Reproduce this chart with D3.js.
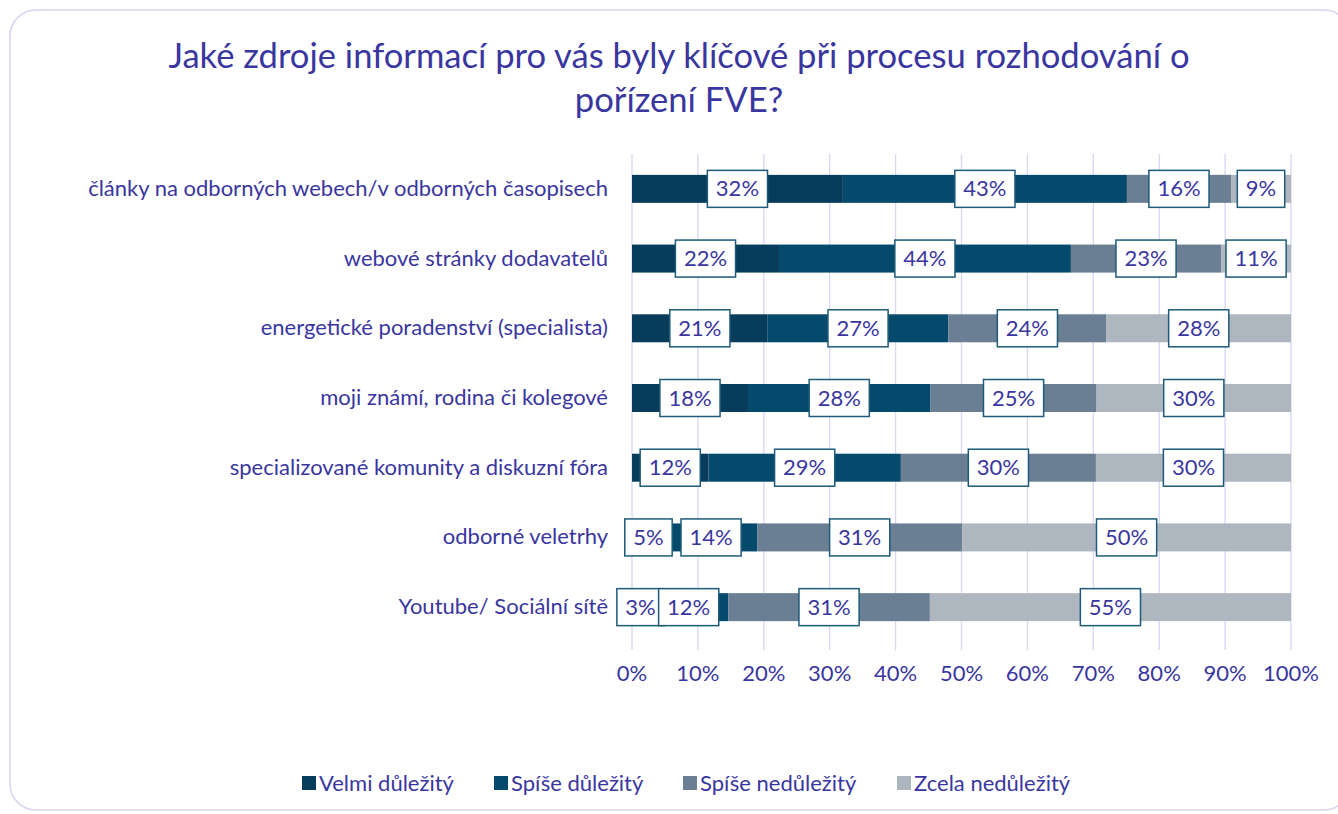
<!DOCTYPE html>
<html><head><meta charset="utf-8">
<script src="https://cdn.jsdelivr.net/npm/d3@7"></script>
<style>body{margin:0;background:#fff}svg{display:block}</style>
</head><body>
<svg id="c" width="1338" height="814"></svg>
<script>
const categories = [
  "články na odborných webech/v odborných časopisech",
  "webové stránky dodavatelů",
  "energetické poradenství (specialista)",
  "moji známí, rodina či kolegové",
  "specializované komunity a diskuzní fóra",
  "odborné veletrhy",
  "Youtube/ Sociální sítě"
];
const seriesNames = ["Velmi důležitý", "Spíše důležitý", "Spíše nedůležitý", "Zcela nedůležitý"];
const velmi      = [32.0, 22.3, 20.6, 17.6, 11.6,  5.0,  2.6];
const spise      = [43.1, 44.3, 27.4, 27.7, 29.2, 14.0, 12.0];
const spiseNe    = [15.8, 22.8, 24.0, 25.2, 29.6, 31.1, 30.6];
const zcela      = [ 9.1, 10.6, 28.0, 29.5, 29.6, 49.9, 54.8];
const xTicks = [0,10,20,30,40,50,60,70,80,90,100];
const colors = ["#073d5a", "#054a6d", "#6a7f93", "#aeb6bf"];
const textColor = "#3a36a0";
const font = "Lato, 'Open Sans', sans-serif";
const fs = "22px";

const svg = d3.select("#c");
svg.append("rect").attr("x",10).attr("y",10).attr("width",1340).attr("height",800)
  .attr("rx",26).attr("fill","#fff").attr("stroke","#d6d2f2").attr("stroke-width",1.5);

svg.append("text").attr("x",679).attr("y",68).attr("text-anchor","middle")
  .attr("fill",textColor).style("font-family",font).style("font-size","34.6px")
  .text("Jaké zdroje informací pro vás byly klíčové při procesu rozhodování o");
svg.append("text").attr("x",679).attr("y",112).attr("text-anchor","middle")
  .attr("fill",textColor).style("font-family",font).style("font-size","34.6px")
  .text("pořízení FVE?");

const x = d3.scaleLinear().domain([0,100]).range([632,1291]);
const y = d3.scaleBand().domain(categories).range([154,642]).paddingInner(0.6).paddingOuter(0.3);

// gridlines
svg.append("g").selectAll("line").data(xTicks).join("line")
  .attr("x1",d=>x(d)).attr("x2",d=>x(d)).attr("y1",154).attr("y2",650)
  .attr("stroke","#d9d5f3").attr("stroke-width",1.3);

const rows = categories.map((c,i)=>({cat:c, v:[velmi[i],spise[i],spiseNe[i],zcela[i]]}));
const segs = [];
rows.forEach(r=>{let acc=0; r.v.forEach((v,k)=>{segs.push({cat:r.cat,k,x0:acc,x1:acc+v,v}); acc+=v;});});

const bh = 28;
svg.append("g").selectAll("rect").data(segs).join("rect")
  .attr("x",d=>x(d.x0)).attr("width",d=>x(d.x1)-x(d.x0))
  .attr("y",d=>y(d.cat)+y.bandwidth()/2-bh/2).attr("height",bh)
  .attr("fill",d=>colors[d.k]);

// labels
const lg = svg.append("g");
segs.forEach(d=>{
  const cx = (x(d.x0)+x(d.x1))/2, cy = y(d.cat)+y.bandwidth()/2;
  const t = Math.round(d.v)+"%";
  const g = lg.append("g");
  const txt = g.append("text").attr("x",cx).attr("y",cy+7.5).attr("text-anchor","middle")
    .attr("fill",textColor).style("font-family",font).style("font-size",fs).text(t);
  const w = txt.node().getComputedTextLength()+17;
  g.insert("rect","text").attr("x",cx-w/2).attr("y",cy-18.5).attr("width",w).attr("height",37)
    .attr("fill","#fff").attr("stroke","#1d5b78").attr("stroke-width",1.5);
});

// category labels
svg.append("g").selectAll("text").data(categories).join("text")
  .attr("x",608).attr("y",d=>y(d)+y.bandwidth()/2+7).attr("text-anchor","end")
  .attr("fill",textColor).style("font-family",font).style("font-size",fs).text(d=>d);

// x axis labels
svg.append("g").selectAll("text").data(xTicks).join("text")
  .attr("x",d=>x(d)).attr("y",681).attr("text-anchor","middle")
  .attr("fill",textColor).style("font-family",font).style("font-size",fs).text(d=>d+"%");

// legend
const legX = [302, 494, 683, 897];
const leg = svg.append("g").selectAll("g").data(seriesNames).join("g")
  .attr("transform",(d,i)=>`translate(${legX[i]},783)`);
leg.append("rect").attr("x",0).attr("y",-7).attr("width",14).attr("height",14).attr("fill",(d,i)=>colors[i]);
leg.append("text").attr("x",17).attr("y",7.5).attr("fill",textColor)
  .style("font-family",font).style("font-size",fs).text(d=>d);
</script>
</body></html>
